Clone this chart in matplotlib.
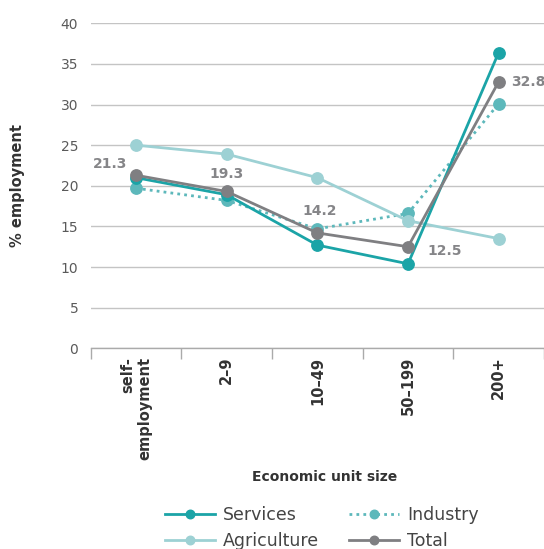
import matplotlib
matplotlib.use('Agg')
import matplotlib.pyplot as plt
from matplotlib.ticker import FixedLocator

# data
categories = ['self-\nemployment', '2–9', '10–49', '50–199', '200+']
services = [21.0, 18.9, 12.7, 10.4, 36.4]
industry = [19.7, 18.2, 14.7, 16.6, 30.1]
agriculture = [25.0, 23.9, 21.0, 15.7, 13.5]
total = [21.3, 19.3, 14.2, 12.5, 32.8]
total_labels = ['21.3', '19.3', '14.2', '12.5', '32.8']

plt.rcParams['font.family'] = ['DejaVu Sans']

W, H = 544, 549
fig = plt.figure(figsize=(W / 100, H / 100), dpi=100)
left, bottom, top = 90.7, 348.3, 23.3
ax = fig.add_axes([left / W, 1 - bottom / H, 1 - left / W, (bottom - top) / H])

x = list(range(len(categories)))
c_serv = '#1ba4a7'
c_ind = '#5db8bb'
c_agri = '#9dd1d4'
c_tot = '#7f7f82'

l_ind, = ax.plot(x, industry, color=c_ind, lw=2, ls=(0, (1, 1.5)), marker='o', ms=8.2,
                 label='Industry', zorder=3)
l_agri, = ax.plot(x, agriculture, color=c_agri, lw=2, marker='o', ms=8.2,
                  label='Agriculture', zorder=4)
l_serv, = ax.plot(x, services, color=c_serv, lw=2, marker='o', ms=8.2,
                  label='Services', zorder=5)
l_tot, = ax.plot(x, total, color=c_tot, lw=2, marker='o', ms=8.2,
                 label='Total', zorder=6)

# labels on the total line (offsets in pixels)
offsets = [(-9, 11, 'right', 'center'), (0, 17, 'center', 'center'), (2, 22, 'center', 'center'),
           (19, -4, 'left', 'center'), (12, 0, 'left', 'center')]
for xi, yi, txt, (dx, dy, ha, va) in zip(x, total, total_labels, offsets):
    ax.annotate(txt, (xi, yi), xytext=(dx * 0.72, dy * 0.72), textcoords='offset points',
                ha=ha, va=va, fontsize=10, fontweight='bold', color='#858588',
                annotation_clip=False)

ax.set_xlim(-0.5, 4.5)
ax.set_ylim(0, 40)
ax.set_yticks(range(0, 41, 5))
ax.set_xticks(x)
ax.set_xticklabels(categories, rotation=90, fontsize=10.5, fontweight='bold',
                   color='#333333', va='top', ha='center', multialignment='right')
ax.xaxis.set_minor_locator(FixedLocator([-0.5, 0.5, 1.5, 2.5, 3.5, 4.5]))
ax.tick_params(axis='x', which='major', length=0, pad=6)
ax.tick_params(axis='x', which='minor', length=8, color='#aaaaaa', width=1)
ax.tick_params(axis='y', length=0, pad=9, labelsize=10, labelcolor='#5a5a5a')

ax.grid(axis='y', color='#c4c4c4', lw=1)
ax.set_axisbelow(True)
for s in ['top', 'right', 'left']:
    ax.spines[s].set_visible(False)
ax.spines['bottom'].set_color('#aaaaaa')
ax.spines['bottom'].set_linewidth(1)

ax.set_ylabel('% employment', fontsize=10.5, fontweight='bold', color='#333333')
ax.yaxis.set_label_coords(-(left - 25) / (W - left), 0.5)
ax.set_xlabel('Economic unit size', fontsize=10, fontweight='bold', color='#333333')
ax.xaxis.set_label_coords((325 - left) / (W - left), -(470 - bottom) / (bottom - top))

fig.legend(handles=[l_serv, l_agri, l_ind, l_tot], ncol=2, loc='center',
           bbox_to_anchor=(321.5 / W, 1 - 528 / H), frameon=False, fontsize=12.5,
           markerscale=0.75, handlelength=2.9, columnspacing=1.7, labelspacing=0.5,
           handletextpad=0.46, labelcolor='#444444')

plt.savefig('out.png', dpi=100)
